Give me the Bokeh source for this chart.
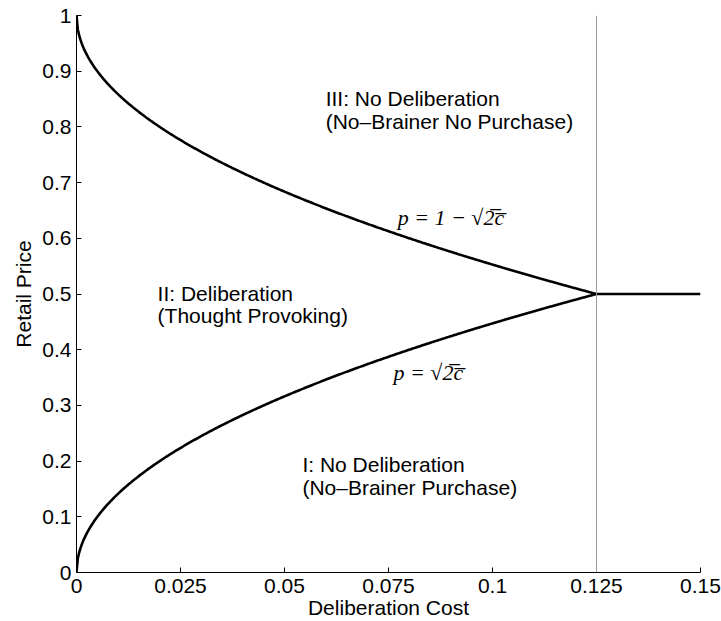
import numpy as np
from bokeh.plotting import figure
from bokeh.models import Range1d, FixedTicker, Span, ColumnDataSource
from bokeh.core.properties import value
from bokeh.embed import file_html
from bokeh.resources import INLINE

# Region boundaries in (deliberation cost c, retail price p)
c_threshold = 0.125
c_max = 0.15
c_grid = np.linspace(0.0, c_threshold, 400)
p_lower = np.sqrt(2 * c_grid)          # p = sqrt(2c)
p_upper = 1 - np.sqrt(2 * c_grid)      # p = 1 - sqrt(2c)
flat_c = [c_threshold, c_max]
flat_p = [0.5, 0.5]

x_ticks = [0, 0.025, 0.05, 0.075, 0.1, 0.125, 0.15]
x_tick_labels = ["0", "0.025", "0.05", "0.075", "0.1", "0.125", "0.15"]
y_ticks = [0, 0.1, 0.2, 0.3, 0.4, 0.5, 0.6, 0.7, 0.8, 0.9, 1.0]
y_tick_labels = ["0", "0.1", "0.2", "0.3", "0.4", "0.5", "0.6", "0.7", "0.8", "0.9", "1"]

region_text = [
    "III: No Deliberation", "(No\u2013Brainer No Purchase)",
    "II: Deliberation", "(Thought Provoking)",
    "I: No Deliberation", "(No\u2013Brainer Purchase)",
]
region_x = [0.0599, 0.0599, 0.0195, 0.0195, 0.0543, 0.0543]
region_y = [0.851, 0.810, 0.501, 0.461, 0.194, 0.152]

formula_text = ["p = 1 \u2212 \u221a2\u0305c\u0305", "p = \u221a2\u0305c\u0305"]
formula_x = [0.0772, 0.0762]
formula_y = [0.637, 0.359]

FONT = "Liberation Sans"
SIZE = "21px"

p = figure(width=721, height=621, output_backend="svg", toolbar_location=None,
           x_range=Range1d(0, c_max), y_range=Range1d(0, 1),
           min_border_left=76, min_border_right=21, min_border_top=15, min_border_bottom=49)
p.outline_line_color = None
p.xgrid.visible = False
p.ygrid.visible = False
p.background_fill_color = "white"
p.border_fill_color = "white"

for ax, ticks, labels in ((p.xaxis[0], x_ticks, x_tick_labels), (p.yaxis[0], y_ticks, y_tick_labels)):
    ax.ticker = FixedTicker(ticks=ticks)
    ax.major_label_overrides = {t: l for t, l in zip(ticks, labels)}
    ax.major_tick_in = 5
    ax.major_tick_out = 0
    ax.minor_tick_line_color = None
    ax.axis_line_color = "black"
    ax.major_tick_line_color = "black"
    ax.major_label_text_font = FONT
    ax.major_label_text_font_size = SIZE
    ax.major_label_text_color = "black"
    ax.axis_label_text_font = FONT
    ax.axis_label_text_font_size = SIZE
    ax.axis_label_text_font_style = "normal"
    ax.axis_label_text_color = "black"

p.xaxis.axis_label = "Deliberation Cost"
p.yaxis.axis_label = "Retail Price"
p.xaxis.major_label_standoff = 6
p.yaxis.major_label_standoff = 5
p.xaxis.axis_label_standoff = 0
p.yaxis.axis_label_standoff = 4

p.add_layout(Span(location=c_threshold, dimension="height", line_color="#9a9a9a", line_width=1))

p.line(c_grid, p_upper, line_color="black", line_width=2.6)
p.line(c_grid, p_lower, line_color="black", line_width=2.6)
p.line(flat_c, flat_p, line_color="black", line_width=2.6)

p.text(x="x", y="y", text="t",
       source=ColumnDataSource(dict(x=region_x, y=region_y, t=region_text)),
       text_font=value(FONT), text_font_size=SIZE, text_color="black",
       text_align="left", text_baseline="middle")

p.text(x="x", y="y", text="t",
       source=ColumnDataSource(dict(x=formula_x, y=formula_y, t=formula_text)),
       text_font=value("Liberation Serif"), text_font_style="italic", text_font_size="22px",
       text_color="black", text_align="left", text_baseline="middle")

open("out.html", "w").write(file_html(p, INLINE))
